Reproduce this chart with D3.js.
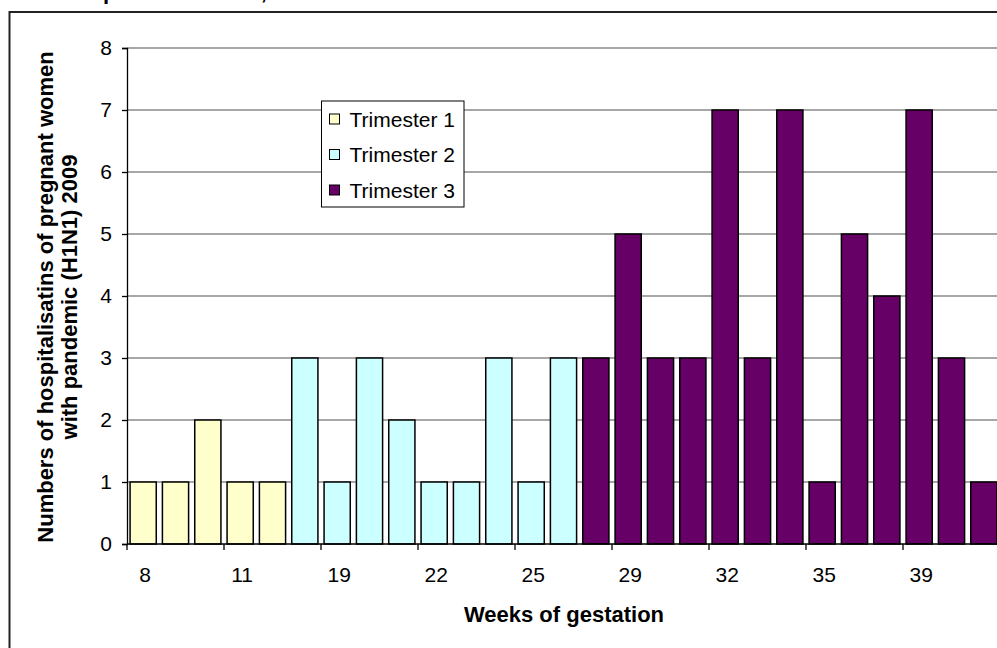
<!DOCTYPE html>
<html>
<head>
<meta charset="utf-8">
<script src="https://cdn.jsdelivr.net/npm/d3@7/dist/d3.min.js"></script>
<style>
  html, body { margin: 0; padding: 0; background: #fff; }
  svg { display: block; font-family: "Liberation Sans", Arial, sans-serif; }
</style>
</head>
<body>
<svg id="chart" width="997" height="648"></svg>
<script>
// Weeks of gestation (one bar per week with recorded cases)
const weeks = ["8","9","10","11","12","18","19","20","21","22","23","24","25","27",
               "28","29","30","31","32","33","34","35","36","38","39","40","41"];
// Hospitalisations per week
const counts = [1,1,2,1,1, 3,1,3,2,1,1,3,1,3, 3,5,3,3,7,3,7,1,5,4,7,3,1];
// Trimester of each week
const trimester = [1,1,1,1,1, 2,2,2,2,2,2,2,2,2, 3,3,3,3,3,3,3,3,3,3,3,3,3];
// Week labels printed under the axis
const tickWeeks = ["8","11","19","22","25","29","32","35","39"];
const yTicks = [0,1,2,3,4,5,6,7,8];
const seriesNames = ["Trimester 1","Trimester 2","Trimester 3"];
const seriesColors = ["#FFFFCC","#CCFFFF","#660066"];

const svg = d3.select("#chart");
const plot = { left: 127, right: 1000, top: 48, bottom: 544 };

// outer chart frame
svg.append("rect")
  .attr("x", 9.5).attr("y", 12)
  .attr("width", 1100).attr("height", 700)
  .attr("fill", "none").attr("stroke", "#222").attr("stroke-width", 2);

// title (upper part falls outside the page)
svg.append("text")
  .attr("x", 103).attr("y", -1.5)
  .attr("font-size", 22).attr("font-weight", "bold")
  .text("pandemic 2009,");

const x = d3.scaleBand()
  .domain(weeks)
  .range([plot.left, plot.right])
  .paddingInner(0.19)
  .paddingOuter(0.095);

const y = d3.scaleLinear().domain([0, 8]).range([plot.bottom, plot.top]);

// horizontal gridlines
svg.append("g").selectAll("line")
  .data(yTicks.filter(d => d > 0))
  .join("line")
  .attr("x1", plot.left).attr("x2", plot.right)
  .attr("y1", d => y(d)).attr("y2", d => y(d))
  .attr("stroke", "#8a8a8a").attr("stroke-width", 1.3);

// bars
svg.append("g").selectAll("rect")
  .data(weeks.map((w, i) => ({ week: w, value: counts[i], tri: trimester[i] })))
  .join("rect")
  .attr("x", d => x(d.week))
  .attr("width", x.bandwidth())
  .attr("y", d => y(d.value))
  .attr("height", d => y(0) - y(d.value))
  .attr("fill", d => seriesColors[d.tri - 1])
  .attr("stroke", "#000").attr("stroke-width", 1.5);

// y axis
const yAxis = svg.append("g")
  .attr("transform", `translate(${plot.left},0)`)
  .call(d3.axisLeft(y).tickValues(yTicks).tickFormat(d3.format("d")).tickSize(5).tickPadding(10));
yAxis.select(".domain").attr("stroke", "#000").attr("stroke-width", 1.3);
yAxis.selectAll(".tick line").attr("stroke", "#000").attr("stroke-width", 1.3);
yAxis.selectAll(".tick text")
  .attr("font-size", 21).attr("fill", "#000")
  .attr("font-family", "'Liberation Sans', Arial, sans-serif");

// x axis line
svg.append("line")
  .attr("x1", plot.left).attr("x2", plot.right)
  .attr("y1", y(0)).attr("y2", y(0))
  .attr("stroke", "#000").attr("stroke-width", 1.3);

// x tick marks between category groups of three
const step = x.step();
svg.append("g").selectAll("line")
  .data(d3.range(0, weeks.length + 1, 3))
  .join("line")
  .attr("x1", i => plot.left + i * step).attr("x2", i => plot.left + i * step)
  .attr("y1", y(0)).attr("y2", y(0) + 6)
  .attr("stroke", "#000").attr("stroke-width", 1.3);

// x tick labels
svg.append("g").selectAll("text")
  .data(tickWeeks)
  .join("text")
  .attr("x", d => x(d) + x.bandwidth() / 2 + 2)
  .attr("y", 582)
  .attr("text-anchor", "middle")
  .attr("font-size", 21)
  .text(d => d);

// axis titles
svg.append("text")
  .attr("x", 564).attr("y", 622)
  .attr("text-anchor", "middle")
  .attr("font-size", 22).attr("font-weight", "bold")
  .text("Weeks of gestation");

const yTitle = svg.append("text")
  .attr("transform", "translate(0,297) rotate(-90)")
  .attr("text-anchor", "middle")
  .attr("font-size", 22).attr("font-weight", "bold");
yTitle.append("tspan").attr("x", 0).attr("y", 53).text("Numbers of hospitalisatins of pregnant women");
yTitle.append("tspan").attr("x", 0).attr("y", 77).text("with pandemic (H1N1) 2009");

// legend
const legend = svg.append("g").attr("transform", "translate(321.5,101)");
legend.append("rect")
  .attr("width", 142.5).attr("height", 106)
  .attr("fill", "#fff").attr("stroke", "#000").attr("stroke-width", 1);
const rows = legend.selectAll("g.row")
  .data(seriesNames)
  .join("g")
  .attr("class", "row")
  .attr("transform", (d, i) => `translate(0,${18 + i * 35.5})`);
rows.append("rect")
  .attr("x", 8).attr("y", -5)
  .attr("width", 10).attr("height", 10)
  .attr("fill", (d, i) => seriesColors[i])
  .attr("stroke", "#000").attr("stroke-width", 1);
rows.append("text")
  .attr("x", 28).attr("y", 0).attr("dy", "0.36em")
  .attr("font-size", 21)
  .text(d => d);
</script>
</body>
</html>
